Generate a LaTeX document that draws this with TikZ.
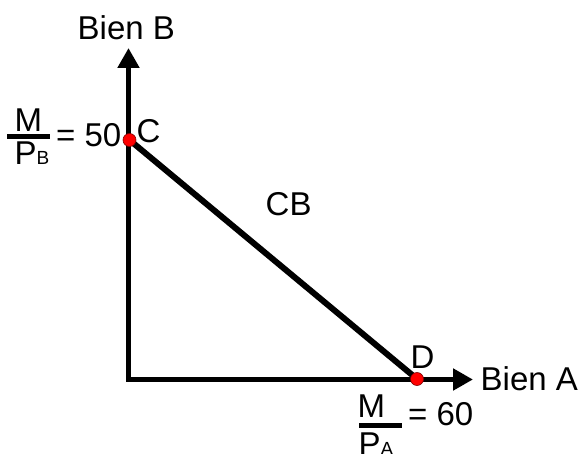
\documentclass[tikz,border=0pt]{standalone}
\usepackage{fontspec}
\setmainfont{Liberation Sans}
\usetikzlibrary{arrows.meta}

\begin{document}
\begin{tikzpicture}[
    x=1pt, y=-1pt,
    lbl/.style={font=\fontsize{33}{38}\selectfont, inner sep=0pt, anchor=base west},
    axis/.style={line width=5pt, line join=miter, {Triangle[length=20pt,width=21pt]}-{Triangle[length=20pt,width=21pt]}},
    budget/.style={line width=6pt},
    fracbar/.style={line width=4.5pt},
    dot/.style={circle, fill=red, draw=red!50!black, line width=0.6pt, minimum size=13pt, inner sep=0pt}
]
    \useasboundingbox (0,0) rectangle (578,454);
    \newcommand{\sub}[1]{{\fontsize{19}{22}\selectfont #1}}

    % Axes
    \coordinate (O) at (128.5,379.5);
    \coordinate (ytip) at (128.5,48);
    \coordinate (xtip) at (473,379.5);
    \draw[axis] (ytip) -- (O) -- (xtip);
    \node[lbl] (bienB) at (77.5,40) {Bien B};
    \node[lbl] (bienA) at (480.5,390) {Bien A};

    % Budget line C - D
    \coordinate (C) at (129.5,140);
    \coordinate (D) at (417,379);
    \draw[budget] (C) -- (D);
    \node[dot] (dotC) at (C) {};
    \node[dot] (dotD) at (D) {};
    \node[lbl] (labC) at (136.5,143) {C};
    \node[lbl] (labD) at (410.5,368) {D};
    \node[lbl] (cb) at (265.5,216) {CB};

    % Intercept on Bien B
    \node[lbl] (numB) at (14.5,132) {M};
    \coordinate (barBl) at (7,136.5);
    \coordinate (barBr) at (50,136.5);
    \draw[fracbar] (barBl) -- (barBr);
    \node[lbl] (denB) at (14.5,165) {P\sub{B}};
    \node[lbl] (valB) at (56,147) {= 50};

    % Intercept on Bien A
    \node[lbl] (numA) at (357.5,417) {M};
    \coordinate (barAl) at (359,425.5);
    \coordinate (barAr) at (402,425.5);
    \draw[fracbar] (barAl) -- (barAr);
    \node[lbl] (denA) at (358.5,455) {P\sub{A}};
    \node[lbl] (valA) at (408,425) {= 60};

\end{tikzpicture}
\end{document}
